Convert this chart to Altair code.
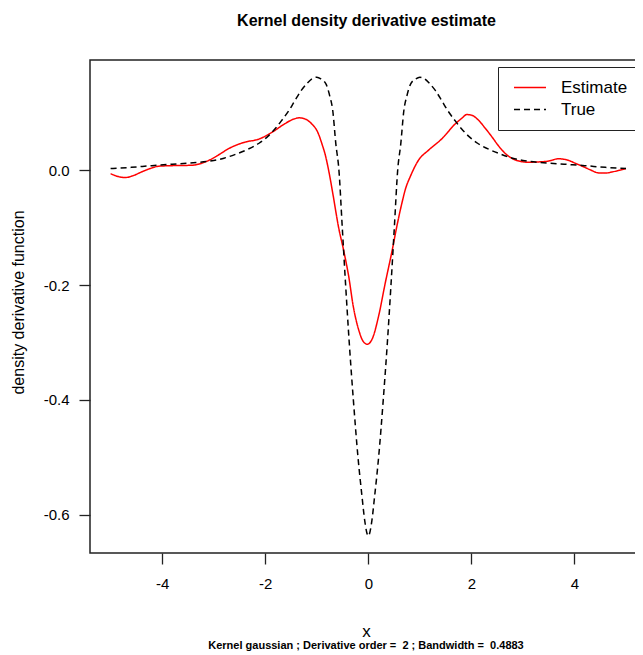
import altair as alt
import pandas as pd

# ---- data ----
est_x = [-5.0, -4.85, -4.72, -4.55, -4.40, -4.20, -4.07, -3.80, -3.43, -3.10, -2.90, -2.71,
         -2.39, -2.13, -1.87, -1.62, -1.45, -1.34, -1.22, -1.10, -0.98, -0.90, -0.83, -0.77,
         -0.68, -0.58, -0.48, -0.38, -0.29, -0.19, -0.10, -0.02, 0.08, 0.20, 0.33, 0.46,
         0.56, 0.65, 0.73, 0.81, 0.97, 1.17, 1.43, 1.69, 1.82, 1.91, 2.00, 2.14, 2.27,
         2.40, 2.53, 2.66, 2.80, 2.92, 3.10, 3.30, 3.50, 3.69, 3.80, 3.89, 4.02, 4.15,
         4.30, 4.47, 4.60, 4.73, 4.87, 5.0]
est_y = [-0.006, -0.011, -0.0127, -0.009, -0.003, 0.004, 0.007, 0.008, 0.0087, 0.017, 0.027, 0.0376,
         0.049, 0.054, 0.066, 0.081, 0.089, 0.0913, 0.089, 0.081, 0.066, 0.046, 0.025, 0.0,
         -0.045, -0.098, -0.139, -0.185, -0.238, -0.277, -0.298, -0.303, -0.293, -0.254, -0.196, -0.141,
         -0.095, -0.058, -0.030, -0.012, 0.017, 0.035, 0.055, 0.081, 0.091, 0.097, 0.096, 0.087, 0.073,
         0.058, 0.042, 0.029, 0.020, 0.016, 0.014, 0.0145, 0.016, 0.020, 0.019, 0.017, 0.012, 0.007,
         0.001, -0.0047, -0.005, -0.003, 0.000, 0.003]

true_x = [-5.0, -4.6, -4.2, -3.8, -3.4, -3.0, -2.8, -2.57, -2.35, -2.12, -1.95, -1.8, -1.67,
          -1.54, -1.42, -1.3, -1.18, -1.08, -1.0, -0.92, -0.82, -0.75, -0.69, -0.63, -0.57,
          -0.505, -0.44, -0.37, -0.29, -0.20, -0.12, -0.07, 0.0, 0.07, 0.12, 0.20, 0.29, 0.37,
          0.44, 0.505, 0.57, 0.63, 0.69, 0.75, 0.82, 0.92, 1.0, 1.08, 1.18, 1.3, 1.42, 1.54,
          1.67, 1.8, 1.95, 2.12, 2.35, 2.57, 2.8, 3.0, 3.4, 3.8, 4.2, 4.6, 5.0]
true_y = [0.003, 0.005, 0.008, 0.0105, 0.013, 0.017, 0.021, 0.028, 0.036, 0.047, 0.059, 0.073, 0.088,
          0.104, 0.122, 0.139, 0.152, 0.160, 0.162, 0.159, 0.150, 0.130, 0.104, 0.046, 0.0,
          -0.1, -0.2, -0.3, -0.4, -0.5, -0.57, -0.61, -0.637, -0.61, -0.57, -0.5, -0.4, -0.3,
          -0.2, -0.1, 0.0, 0.046, 0.104, 0.130, 0.150, 0.159, 0.162, 0.160, 0.152, 0.139, 0.122, 0.104,
          0.088, 0.073, 0.059, 0.047, 0.036, 0.028, 0.021, 0.017, 0.013, 0.0105, 0.008, 0.005, 0.003]

series_names = ["Estimate", "True"]
series_colors = ["#FF0000", "#000000"]
x_ticks = [-4, -2, 0, 2, 4]
y_ticks = [-0.6, -0.4, -0.2, 0.0]
title_text = "Kernel density derivative estimate"
sub_text = "Kernel gaussian ; Derivative order = \u00a02 ; Bandwidth = \u00a00.4883"

df = pd.concat([
    pd.DataFrame({"x": est_x, "y": est_y, "series": series_names[0], "order": range(len(est_x))}),
    pd.DataFrame({"x": true_x, "y": true_y, "series": series_names[1], "order": range(len(true_x))}),
])
sub_df = pd.DataFrame({"label": [sub_text]})

FONT = "Liberation Sans"
W, H = 553, 493

lines = alt.Chart(df).mark_line(strokeWidth=1.5, interpolate="monotone").encode(
    x=alt.X("x:Q",
            scale=alt.Scale(domain=[-5.4, 5.33], nice=False, zero=False),
            axis=alt.Axis(values=x_ticks, title="x", titleFontSize=17, titleFontWeight="normal",
                          titleX=276, titleY=78, titleBaseline="middle", titleAlign="center",
                          labelExpr="replace(format(datum.value, 'd'), '\u2212', '-')",
                          labelPadding=12)),
    y=alt.Y("y:Q",
            scale=alt.Scale(domain=[-0.6667, 0.192], nice=False, zero=False),
            axis=alt.Axis(values=y_ticks, title="density derivative function",
                          titleFontSize=16, titleFontWeight="normal",
                          titleX=-72, titleY=242, titleAngle=270, titleBaseline="middle",
                          titleAlign="center",
                          labelExpr="replace(format(datum.value, '.1f'), '\u2212', '-')",
                          labelPadding=10)),
    color=alt.Color("series:N", title=None,
                    scale=alt.Scale(domain=series_names, range=series_colors)),
    strokeDash=alt.StrokeDash("series:N", title=None,
                              scale=alt.Scale(domain=series_names, range=[[1, 0], [6, 4]])),
    order="order:Q",
)

sub = alt.Chart(sub_df).mark_text(font=FONT, fontSize=11, fontWeight="bold", baseline="alphabetic",
                                  align="center", color="#000").encode(
    x=alt.value(276), y=alt.value(589), text="label:N")

chart = alt.layer(lines, sub).properties(
    width=W, height=H,
    title=alt.TitleParams(title_text, font=FONT, fontSize=16, fontWeight="bold", anchor="middle",
                          frame="group", baseline="alphabetic", offset=18, color="#000"),
    autosize=alt.AutoSizeParams(type="none"),
    padding={"left": 82, "top": 52, "right": -8, "bottom": 100},
).configure_view(
    stroke="#222", strokeWidth=1.5
).configure_axis(
    labelFont=FONT, labelFontSize=15, labelColor="#000", titleFont=FONT, titleColor="#000",
    grid=False, domain=False, tickColor="#222", tickSize=11, tickWidth=1.3,
).configure_legend(
    orient="none", legendX=408, legendY=7, strokeColor="#222", fillColor="white",
    padding=12, symbolOffset=3, labelFont=FONT, labelFontSize=17, labelColor="#000",
    symbolType="stroke", symbolSize=1024, symbolStrokeWidth=1.5, labelOffset=14,
    rowPadding=4, clipHeight=17, cornerRadius=0,
)

chart.save("out.html", embed_options={"renderer": "svg", "actions": False})
